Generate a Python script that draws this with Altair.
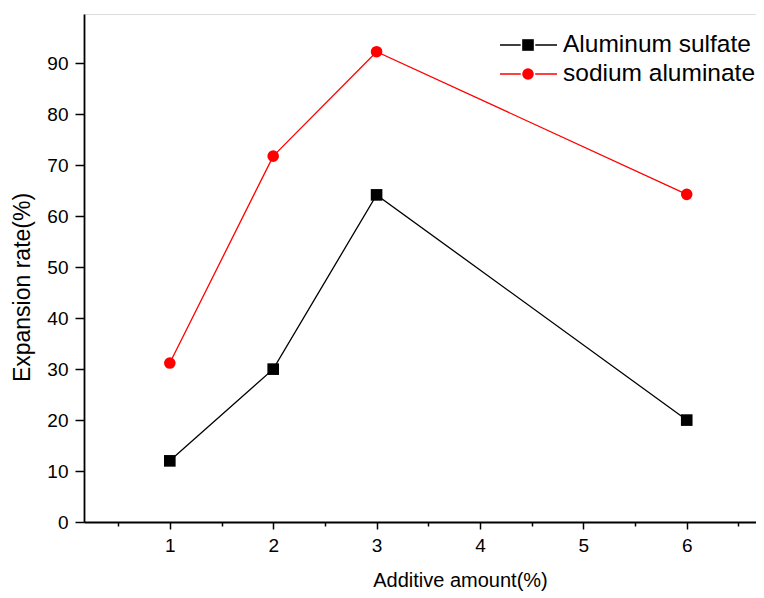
import altair as alt
import pandas as pd

additive = [1, 2, 3, 6]
aluminum_sulfate = [12.0, 30.0, 64.2, 20.0]
sodium_aluminate = [31.2, 71.8, 92.3, 64.3]
series_names = ["Aluminum sulfate", "sodium aluminate"]
series_colors = ["#000000", "#ff0000"]
series_shapes = ["square", "circle"]

x_ticks = [0.5, 1, 1.5, 2, 2.5, 3, 3.5, 4, 4.5, 5, 5.5, 6, 6.5]
y_ticks = [0, 5, 10, 15, 20, 25, 30, 35, 40, 45, 50, 55, 60, 65, 70, 75, 80, 85, 90, 95]

rows = []
for name, vals in zip(series_names, [aluminum_sulfate, sodium_aluminate]):
    for xv, yv in zip(additive, vals):
        rows.append({"x": xv, "y": yv, "series": name})
df = pd.DataFrame(rows)

FONT = "Liberation Sans"

xscale = alt.Scale(domain=[0.17, 6.67], nice=False, zero=False)
yscale = alt.Scale(domain=[0, 99.7], nice=False, zero=False)
color = alt.Color("series:N", scale=alt.Scale(domain=series_names, range=series_colors), legend=None)
shape = alt.Shape("series:N", scale=alt.Scale(domain=series_names, range=series_shapes), legend=None)

xaxis = alt.Axis(
    values=x_ticks,
    labelExpr="datum.value % 1 === 0 ? '' + datum.value : ''",
    title="Additive amount(%)",
    titleFont=FONT, titleFontSize=20, titleFontWeight="normal", titleColor="black",
    titleX=376, titleY=64, titleAlign="center", titleBaseline="alphabetic",
    labelFont=FONT, labelFontSize=19, labelColor="black", labelPadding=7,
    tickSize={"condition": {"test": "datum.value % 1 === 0", "value": 7}, "value": 4},
    tickColor="black", tickWidth=1.5, domainColor="black", domainWidth=1.8,
    grid=False, labelFlush=False, labelOverlap=False,
)
yaxis = alt.Axis(
    values=y_ticks,
    labelExpr="datum.value % 10 === 0 ? '' + datum.value : ''",
    title="Expansion rate(%)",
    titleFont=FONT, titleFontSize=23, titleFontWeight="normal", titleColor="black",
    titleAngle=270, titleX=-55, titleY=273, titleAlign="center", titleBaseline="alphabetic",
    labelFont=FONT, labelFontSize=19, labelColor="black", labelPadding=7,
    tickSize={"condition": {"test": "datum.value % 10 === 0", "value": 9}, "value": 5},
    tickColor="black", tickWidth=1.5, domainColor="black", domainWidth=1.8,
    grid=False, labelFlush=False, labelOverlap=False,
)

base = alt.Chart(df)
lines = base.mark_line(strokeWidth=1.3).encode(
    x=alt.X("x:Q", scale=xscale, axis=xaxis),
    y=alt.Y("y:Q", scale=yscale, axis=yaxis),
    color=color,
    detail="series:N",
)
points = base.mark_point(filled=True, opacity=1, size=135).encode(
    x=alt.X("x:Q", scale=xscale),
    y=alt.Y("y:Q", scale=yscale),
    color=color,
    shape=shape,
)

# legend (drawn manually, Origin style)
legend_layers = []
legend_y = [31, 60]
for name, col, shp, ly in zip(series_names, series_colors, series_shapes, legend_y):
    ld = pd.DataFrame({"series": [name]})
    lb = alt.Chart(ld)
    legend_layers.append(lb.mark_rule(color=col, strokeWidth=1.3).encode(
        x=alt.value(416), x2=alt.value(473), y=alt.value(ly)))
    legend_layers.append(lb.mark_point(filled=True, opacity=1, size=135, color=col, shape=shp,
                                       stroke="white", strokeWidth=3).encode(
        x=alt.value(444), y=alt.value(ly)))
    legend_layers.append(lb.mark_point(filled=True, opacity=1, size=135, color=col, shape=shp).encode(
        x=alt.value(444), y=alt.value(ly)))
    legend_layers.append(lb.mark_text(align="left", baseline="middle", font=FONT, fontSize=24.5,
                                      color="black").encode(
        x=alt.value(479), y=alt.value(ly), text="series:N"))

chart = alt.layer(lines, points, *legend_layers).properties(
    width=672,
    height=508,
    padding={"left": 76, "top": 6, "right": 0, "bottom": 72},
    autosize=alt.AutoSizeParams(type="none"),
).configure_view(stroke=None).configure(background="white")

chart.save("out.html", embed_options={"renderer": "svg", "actions": False})
